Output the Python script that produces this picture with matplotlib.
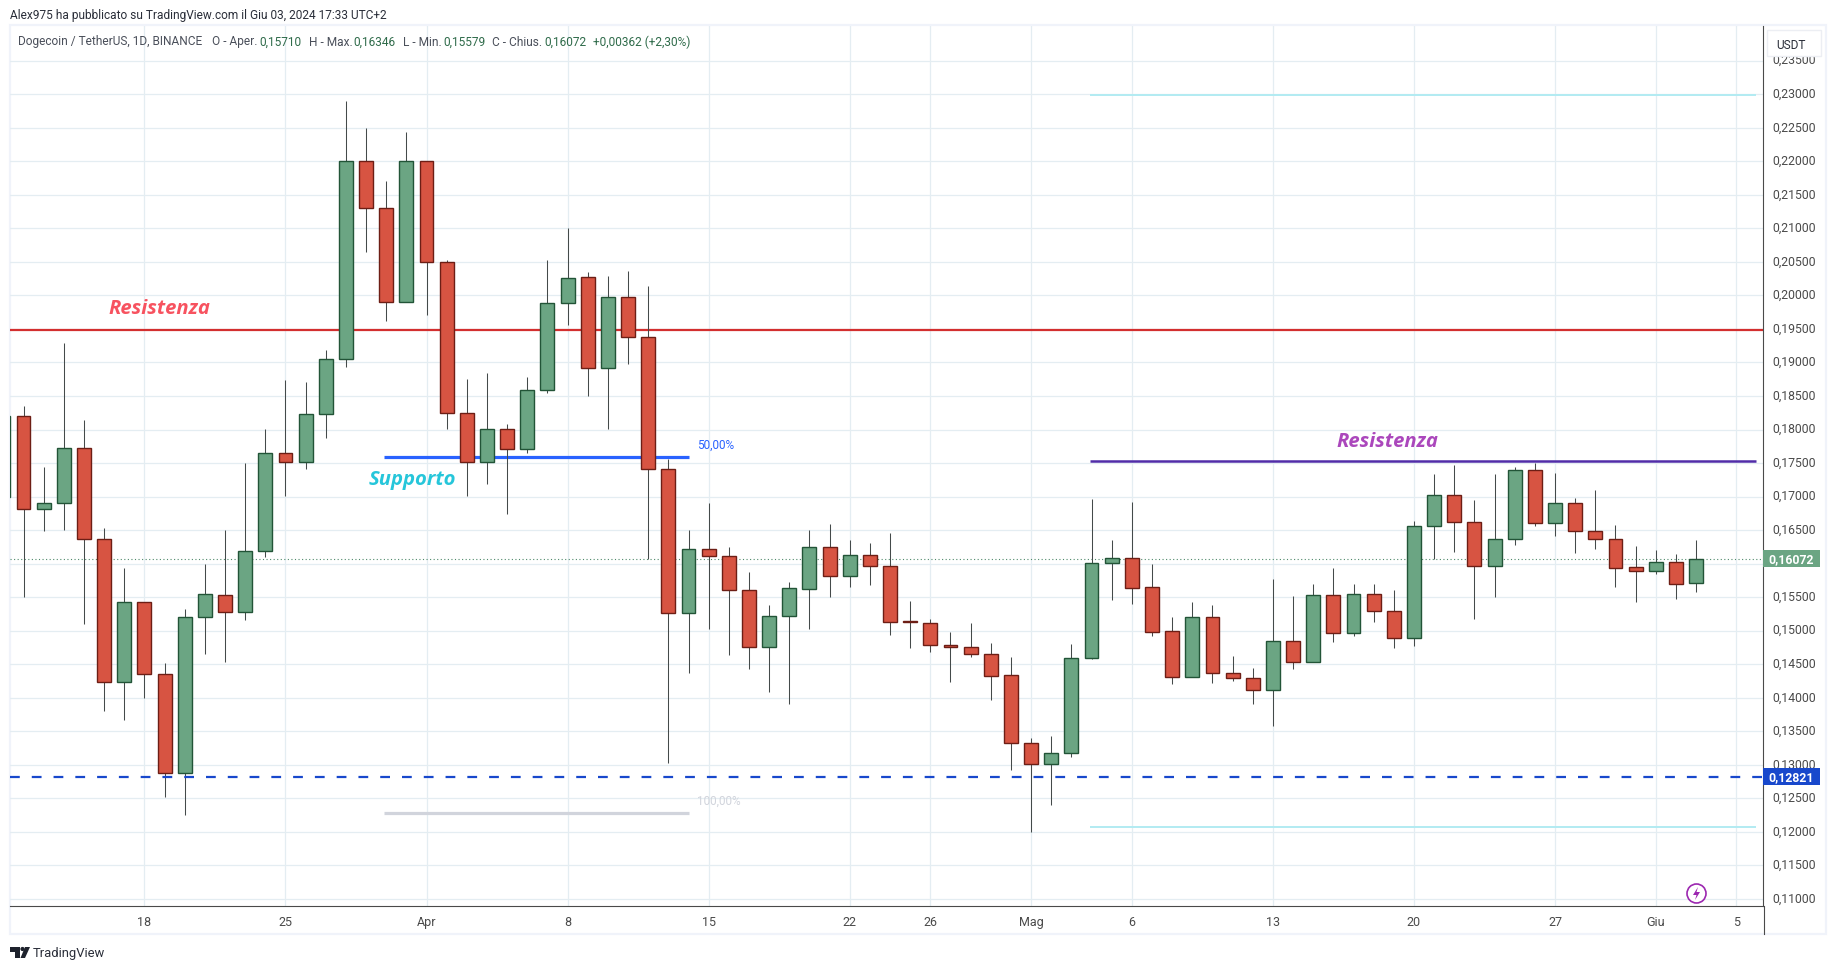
import matplotlib
matplotlib.use("Agg")
import matplotlib.pyplot as plt
import matplotlib.dates as mdates
from matplotlib.patches import Rectangle, Circle, Polygon
from matplotlib.transforms import ScaledTranslation
from datetime import date, timedelta

plt.rcParams['font.family'] = ['Roboto', 'DejaVu Sans']

first_day = date(2024, 3, 11)
opens = [.1700,.18197,.16811,.16900,.17720,.16364,.14241,.15424,.14351,.12875,.15201,.15529,.15285,.16185,.17646,
         .17521,.18227,.19047,.22000,.21299,.19907,.22000,.20504,.18242,.17521,.18004,.17715,.18585,.19882,.20270,
         .18913,.19972,.19375,.17407,.15260,.16214,.16120,.15603,.14753,.15216,.15624,.16253,.15819,.16123,.15966,
         .15141,.15119,.14793,.14761,.14658,.14333,.13329,.13014,.13182,.14593,.16004,.16091,.15645,.14989,.14311,
         .15212,.14376,.14300,.14116,.14853,.14533,.15526,.14967,.15553,.15298,.14891,.16563,.17018,.16628,.15966,
         .16373,.17404,.16611,.16910,.16492,.16373,.15944,.15895,.16031,.15710]
closes = [.18202,.16811,.16900,.17720,.16364,.14241,.15424,.14351,.12875,.15201,.15543,.15285,.16185,.17646,.17521,
          .18227,.19047,.22000,.21299,.19907,.22000,.20504,.18242,.17521,.18004,.17715,.18585,.19882,.20255,.18913,
          .19972,.19375,.17407,.15260,.16214,.16120,.15603,.14753,.15216,.15638,.16253,.15819,.16123,.15966,.15130,
          .15130,.14788,.14761,.14658,.14327,.13329,.13014,.13182,.14598,.16004,.16091,.15640,.14984,.14311,.15212,
          .14370,.14294,.14121,.14853,.14533,.15526,.14967,.15553,.15298,.14891,.16568,.17018,.16622,.15966,.16373,
          .17404,.16611,.16910,.16492,.16373,.15939,.15895,.16031,.15700,.16072]
highs = [.1825,.18352,.17447,.19296,.18143,.16533,.15936,.15430,.14520,.15325,.15996,.16503,.17506,.18009,.18739,
         .18704,.19186,.22899,.22497,.21706,.22437,.22000,.20528,.18754,.18843,.18083,.18779,.20528,.21001,.20349,
         .20290,.20364,.20141,.17566,.16503,.16906,.16249,.15876,.15384,.15727,.16497,.16590,.16351,.16308,.16454,
         .15439,.15168,.14978,.15114,.14815,.14604,.13394,.13437,.14799,.16968,.16351,.16915,.15993,.15201,.15423,
         .15380,.14620,.14441,.15776,.15515,.15694,.15933,.15694,.15694,.15608,.16633,.17333,.17469,.16948,.17333,
         .17442,.17496,.17349,.16975,.17094,.16573,.16259,.16199,.16139,.16346]
lows = [.1695,.15509,.16493,.16508,.15101,.13809,.13675,.13998,.12527,.12253,.14659,.14540,.15166,.16105,.17015,
        .17412,.17879,.18938,.20653,.19624,.19907,.19708,.18009,.17015,.17189,.16746,.17656,.18550,.19559,.18506,
        .18013,.18983,.16065,.13034,.14376,.15031,.14644,.14435,.14092,.13913,.15022,.15499,.15651,.15678,.14935,
        .14739,.14680,.14229,.14604,.13964,.12916,.12005,.12395,.13117,.14582,.15456,.15396,.14919,.14202,.14311,
        .14219,.14251,.13904,.13573,.14425,.14533,.14826,.14919,.15125,.14739,.14767,.16069,.16172,.15179,.15499,
        .16275,.16557,.16411,.16161,.16215,.15651,.15429,.15846,.15472,.15579]

price_ticks = [.110,.115,.120,.125,.130,.135,.140,.145,.150,.155,.160,.165,.170,.175,.180,.185,.190,.195,.200,
               .205,.210,.215,.220,.225,.230,.235]
hidden_price_labels = [.160]
date_ticks = [date(2024,3,18),date(2024,3,25),date(2024,4,1),date(2024,4,8),date(2024,4,15),date(2024,4,22),
              date(2024,4,26),date(2024,5,1),date(2024,5,6),date(2024,5,13),date(2024,5,20),date(2024,5,27),
              date(2024,6,1),date(2024,6,5)]
date_labels = ['18','25','Apr','8','15','22','26','Mag','6','13','20','27','Giu','5']

level_resistance = 0.1948
level_dashed = 0.12821
last_price = 0.16072
fib_50 = 0.17586
fib_100 = 0.12278
box_top = 0.22990
box_mid = 0.17528
box_bottom = 0.12070

W, H = 1835, 970
L, R, T, B = 10, 1763, 27, 907
fig = plt.figure(figsize=(W/100, H/100), dpi=100, facecolor='white')

# chrome layer in pixel coordinates
bg = fig.add_axes([0, 0, 1, 1], zorder=0)
bg.set_xlim(0, W); bg.set_ylim(H, 0); bg.axis('off')
bg.add_patch(Rectangle((9.5, 26), 1816, 909, fill=False, ec='#f0f3fa', lw=1.6))
bg.plot([R+.5, R+.5], [B, 935], color='#4a4a4a', lw=.8)

ax = fig.add_axes([L/W, 1-B/H, (R-L)/W, (B-T)/H], zorder=1)
ax.patch.set_alpha(0)
ax.set_ylim(.10895, .24018)
d0 = mdates.date2num(date(2024,3,18))
ax.set_xlim(d0-6.67, d0+80.32)
for s in ('left','top'):
    ax.spines[s].set_visible(False)
ax.spines['right'].set_color('#4a4a4a'); ax.spines['right'].set_linewidth(.8)
ax.spines['bottom'].set_color('#4a4a4a'); ax.spines['bottom'].set_linewidth(.8)
ax.yaxis.tick_right()
ax.set_yticks(price_ticks)
ax.set_yticklabels(['' if p in hidden_price_labels else f"{p:.5f}".replace('.', ',') for p in price_ticks],
                   fontsize=8.8, color='#4a4a4a')
ax.set_xticks([mdates.date2num(d) for d in date_ticks])
ax.set_xticklabels(date_labels, fontsize=9, color='#4a4a4a')
ax.tick_params(axis='both', length=0)
ax.tick_params(axis='y', pad=6.5)
ax.tick_params(axis='x', pad=6.5)
up_shift = ScaledTranslation(0, 2.5/100, fig.dpi_scale_trans)
for lab in ax.get_yticklabels():
    lab.set_transform(lab.get_transform() + up_shift)
ax.grid(True, color='#e4edf2', lw=.9, zorder=0)
ax.set_axisbelow(True)

xs = [mdates.date2num(first_day + timedelta(days=i)) for i in range(len(opens))]
for x, o, h, l, c in zip(xs, opens, highs, lows, closes):
    up = c >= o
    face = '#6ba583' if up else '#d75442'
    edge = '#225437' if up else '#6d1e15'
    ax.vlines(x, l, h, color='#444a4a', lw=.75, zorder=3)
    ax.bar(x, max(abs(c-o), 1e-5), bottom=min(o, c), width=.69, color=face, edgecolor=edge, lw=1.0, zorder=4)

# horizontal levels and drawings
ax.axhline(level_resistance, color='#d32f2f', lw=1.6, zorder=2)
ax.plot([d0+11.9, d0+27.0], [fib_50]*2, color='#2962ff', lw=2.3, zorder=2, solid_capstyle='butt')
ax.plot([d0+11.9, d0+27.0], [fib_100]*2, color='#d1d4dc', lw=2.3, zorder=2, solid_capstyle='butt')
ax.plot([d0+46.93, d0+79.97], [box_mid]*2, color='#512da8', lw=1.8, zorder=2, solid_capstyle='butt')
ax.plot([d0+46.93, d0+79.97], [box_top]*2, color='#b2ebf2', lw=1.4, zorder=2, solid_capstyle='butt')
ax.plot([d0+46.93, d0+79.97], [box_bottom]*2, color='#b2ebf2', lw=1.4, zorder=2, solid_capstyle='butt')
ax.axhline(last_price, color='#4f8a6b', lw=.8, ls=(0, (1, 2.2)), zorder=2)
ax.axhline(level_dashed, color='#1848cc', lw=1.6, ls=(0, (4.4, 5.4)), zorder=5)

# price tags on the axis
tr = ax.get_yaxis_transform()
tag_h = 17/6706
tag_w = 57/(R-L)
for p, col in ((last_price, '#6ba583'), (level_dashed, '#1848cc')):
    ax.add_patch(Rectangle((1, p-tag_h/2), tag_w, tag_h, transform=tr, fc=col, ec='none', clip_on=False, zorder=6))
    ax.text(1+28.5/(R-L), p, f"{p:.5f}".replace('.', ','), transform=tr, ha='center', va='center',
            color='white', fontsize=8.8, weight='bold', clip_on=False, zorder=7)

# top layer of texts in pixel coordinates
top = fig.add_axes([0, 0, 1, 1], zorder=2)
top.set_xlim(0, W); top.set_ylim(H, 0); top.axis('off'); top.patch.set_alpha(0)
top.text(10, 15, 'Alex975 ha pubblicato su TradingView.com il Giu 03, 2024 17:33 UTC+2', fontsize=8.6, color='#2a2e39', va='center')
dark = '#4a4f5a'; grn = '#2f6b4a'
for x, s, c in ((18,'Dogecoin / TetherUS, 1D, BINANCE',dark),(212,'O - Aper.',dark),(259,'0,15710',grn),
                (309,'H - Max.',dark),(353,'0,16346',grn),(403,'L - Min.',dark),(443,'0,15579',grn),
                (492,'C - Chius.',dark),(544,'0,16072',grn),(593,'+0,00362 (+2,30%)',grn)):
    top.text(x, 42, s, fontsize=8.6, color=c, va='center')
kw = dict(style='italic', weight='bold', family='Open Sans', ha='center', va='center', fontsize=14.6)
top.text(159, 309.5, 'Resistenza', color='#f7525f', **kw)
top.text(412, 480.5, 'Supporto', color='#26c6da', **kw)
top.text(1387, 442.5, 'Resistenza', color='#ab47bc', **kw)
top.text(697, 445, '50,00%', color='#2962ff', fontsize=8.5, va='center')
top.text(697, 801, '100,00%', color='#d1d4dc', fontsize=8.5, va='center')

# USDT box
top.add_patch(Rectangle((1767, 31), 54, 26, fc='white', ec='#eceef3', lw=1))
top.text(1791, 45.5, 'USDT', fontsize=8.6, color='#2a2e39', ha='center', va='center')

# bolt badge
top.add_patch(Circle((1696.5, 894.5), 9.5, fc='white', ec='#9c27b0', lw=1.2))
top.add_patch(Polygon([(1698,888),(1693,896),(1696.5,896),(1695,901),(1700,893),(1696.5,893)], fc='#9c27b0', ec='none'))

# TradingView mark
top.add_patch(Polygon([(10,948),(20,948),(20,959),(15,959),(15,952.5),(10,952.5)], fc='#1e222d', ec='none'))
top.add_patch(Circle((22.5, 950), 2.1, fc='#1e222d', ec='none'))
top.add_patch(Polygon([(25,948),(30,948),(25,959),(20.5,959)], fc='#1e222d', ec='none'))
top.text(33, 953.5, 'TradingView', fontsize=9.4, color='#2a2e39', va='center')

fig.savefig('out.png', dpi=100)
